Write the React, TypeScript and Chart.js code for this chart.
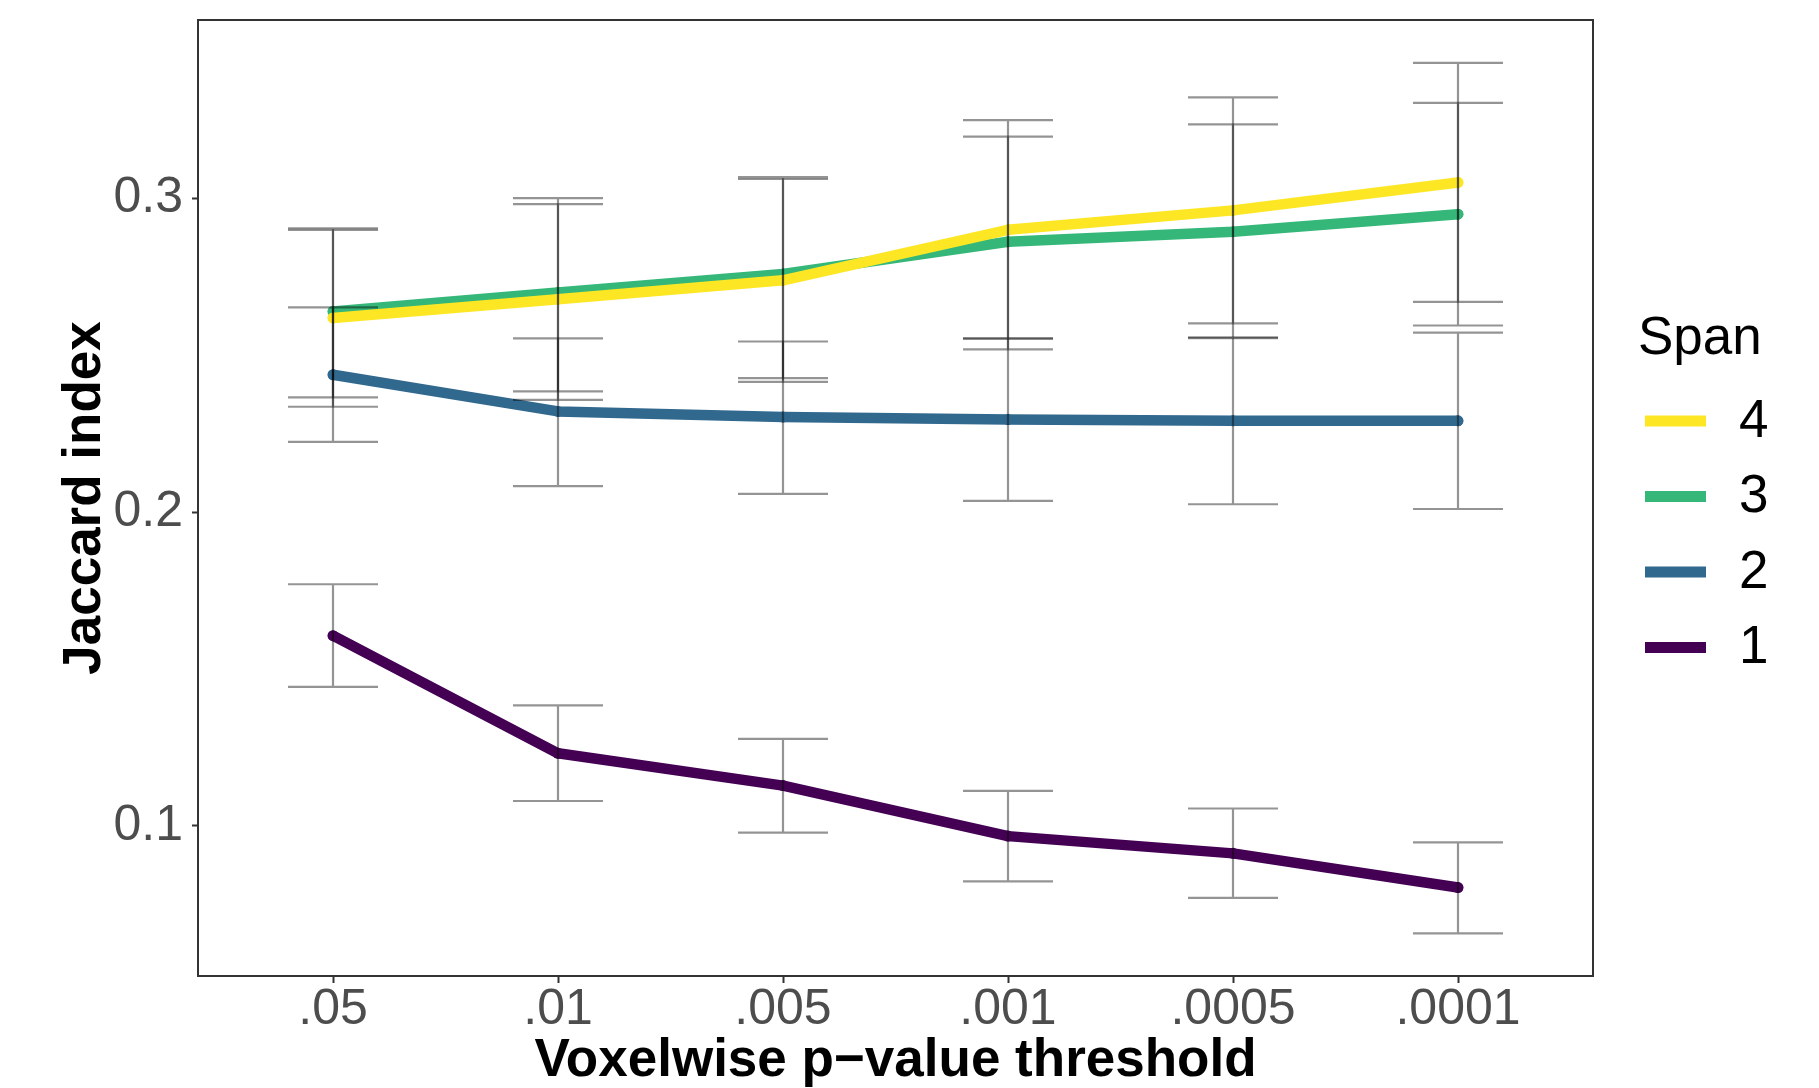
import { useEffect, useRef } from 'react';
import { Chart, registerables } from 'chart.js';

Chart.register(...registerables);

// ---------- data ----------
const thresholds = ['.05', '.01', '.005', '.001', '.0005', '.0001'];
const spanLabels = ['4', '3', '2', '1'];
const spanColors = ['#FDE725', '#35B779', '#31688E', '#440154'];

const span4Mean = [0.2619, 0.2679, 0.2739, 0.2900, 0.2962, 0.3051];
const span4Lower = [0.2336, 0.2358, 0.2415, 0.2553, 0.2602, 0.2670];
const span4Upper = [0.2900, 0.2982, 0.3062, 0.3250, 0.3322, 0.3432];

const span3Mean = [0.2640, 0.2700, 0.2759, 0.2862, 0.2894, 0.2950];
const span3Lower = [0.2366, 0.2385, 0.2427, 0.2519, 0.2555, 0.2595];
const span3Upper = [0.2905, 0.3001, 0.3068, 0.3197, 0.3236, 0.3305];

const span2Mean = [0.2438, 0.2321, 0.2303, 0.2295, 0.2291, 0.2291];
const span2Lower = [0.2224, 0.2083, 0.2058, 0.2036, 0.2025, 0.2010];
const span2Upper = [0.2653, 0.2554, 0.2544, 0.2554, 0.2557, 0.2572];

const span1Mean = [0.1606, 0.1231, 0.1128, 0.0967, 0.0912, 0.0803];
const span1Lower = [0.1443, 0.1079, 0.0978, 0.0823, 0.0770, 0.0657];
const span1Upper = [0.1770, 0.1384, 0.1277, 0.1111, 0.1055, 0.0947];

const yTickValues = [0.1, 0.2, 0.3];

const means = [span4Mean, span3Mean, span2Mean, span1Mean];
const lowers = [span4Lower, span3Lower, span2Lower, span1Lower];
const uppers = [span4Upper, span3Upper, span2Upper, span1Upper];

// axis limits (ggplot-like expansion)
const X_MIN = 0.4;
const X_MAX = 6.6;
const Y_MIN = 0.0521;
const Y_MAX = 0.3569;
const CAP_HALF = 0.2;

const FONT = "'Liberation Sans', Arial, Helvetica, sans-serif";

const errorBarPlugin = {
  id: 'errorBars',
  afterDatasetsDraw(chart: any) {
    const { ctx, scales } = chart;
    const xs = scales.x;
    const ys = scales.y;
    ctx.save();
    ctx.strokeStyle = 'rgba(0,0,0,0.42)';
    ctx.lineWidth = 2.2;
    ctx.lineCap = 'butt';
    ctx.lineJoin = 'miter';
    chart.data.datasets.forEach((ds: any, i: number) => {
      ds.data.forEach((pt: any, j: number) => {
        const px = xs.getPixelForValue(pt.x);
        const x0 = xs.getPixelForValue(pt.x - CAP_HALF);
        const x1 = xs.getPixelForValue(pt.x + CAP_HALF);
        const yl = ys.getPixelForValue(lowers[i][j]);
        const yh = ys.getPixelForValue(uppers[i][j]);
        ctx.beginPath();
        ctx.moveTo(x0, yh);
        ctx.lineTo(x1, yh);
        ctx.moveTo(px, yh);
        ctx.lineTo(px, yl);
        ctx.moveTo(x0, yl);
        ctx.lineTo(x1, yl);
        ctx.stroke();
      });
    });
    ctx.restore();
  },
};

const panelBorderPlugin = {
  id: 'panelBorder',
  afterDraw(chart: any) {
    const { ctx, chartArea } = chart;
    ctx.save();
    ctx.strokeStyle = '#333333';
    ctx.lineWidth = 2;
    ctx.strokeRect(chartArea.left, chartArea.top, chartArea.right - chartArea.left, chartArea.bottom - chartArea.top);
    ctx.restore();
  },
};

const legendPlugin = {
  id: 'ggLegend',
  afterDraw(chart: any) {
    const { ctx, chartArea } = chart;
    const baseX = chartArea.right + 45;
    ctx.save();
    ctx.fillStyle = '#000000';
    ctx.font = `53px ${FONT}`;
    ctx.textAlign = 'left';
    ctx.textBaseline = 'alphabetic';
    ctx.fillText('Span', baseX, 354);
    chart.data.datasets.forEach((ds: any, i: number) => {
      const cy = 421 + i * 75.5;
      ctx.beginPath();
      ctx.strokeStyle = ds.borderColor;
      ctx.lineWidth = 11;
      ctx.lineCap = 'butt';
      ctx.moveTo(baseX + 7, cy);
      ctx.lineTo(baseX + 68, cy);
      ctx.stroke();
      ctx.fillStyle = '#000000';
      ctx.textBaseline = 'middle';
      ctx.fillText(ds.label, baseX + 101, cy + 1);
    });
    ctx.restore();
  },
};

export default function App() {
  const canvasRef = useRef<HTMLCanvasElement | null>(null);

  useEffect(() => {
    const canvas = canvasRef.current;
    if (!canvas) return;
    Chart.defaults.font.family = FONT;

    const datasets = spanLabels.map((label, i) => ({
      label,
      data: thresholds.map((_, j) => ({ x: j + 1, y: means[i][j] })),
      borderColor: spanColors[i],
      backgroundColor: spanColors[i],
      borderWidth: 10.5,
      borderCapStyle: 'round' as const,
      borderJoinStyle: 'round' as const,
      pointRadius: 5.5,
      pointBorderWidth: 0,
      pointBackgroundColor: spanColors[i],
      pointHoverRadius: 5.5,
      tension: 0,
      fill: false,
    }));

    const chart = new Chart(canvas, {
      type: 'line',
      data: { datasets },
      options: {
        responsive: false,
        maintainAspectRatio: false,
        devicePixelRatio: 1,
        animation: false,
        layout: { padding: { left: 0, top: 20, right: 226, bottom: 0 } },
        plugins: {
          legend: { display: false },
          tooltip: { enabled: false },
          title: { display: false },
        },
        scales: {
          x: {
            type: 'linear',
            min: X_MIN,
            max: X_MAX,
            afterBuildTicks: (s: any) => {
              s.ticks = thresholds.map((_, j) => ({ value: j + 1 }));
            },
            afterFit: (s: any) => {
              s.height = 112;
              s.paddingLeft = 0;
              s.paddingRight = 0;
            },
            grid: {
              drawOnChartArea: false,
              drawTicks: true,
              tickLength: 7,
              tickColor: '#333333',
              tickWidth: 2,
              color: '#333333',
            },
            border: { display: false },
            ticks: {
              autoSkip: false,
              maxRotation: 0,
              minRotation: 0,
              padding: 2,
              color: '#4D4D4D',
              font: { size: 50, family: FONT, lineHeight: 1 },
              callback: (v: any) => thresholds[Math.round(Number(v)) - 1] ?? '',
            },
            title: {
              display: true,
              text: 'Voxelwise p\u2212value threshold',
              color: '#000000',
              font: { size: 53, weight: 'bold', family: FONT, lineHeight: 1 },
              padding: { top: 0, bottom: 0 },
            },
          },
          y: {
            type: 'linear',
            min: Y_MIN,
            max: Y_MAX,
            afterBuildTicks: (s: any) => {
              s.ticks = yTickValues.map((v) => ({ value: v }));
            },
            afterFit: (s: any) => {
              s.width = 198;
              s.paddingTop = 0;
              s.paddingBottom = 0;
            },
            grid: {
              drawOnChartArea: false,
              drawTicks: true,
              tickLength: 6,
              tickColor: '#333333',
              tickWidth: 2,
              color: '#333333',
            },
            border: { display: false },
            ticks: {
              autoSkip: false,
              padding: 9,
              color: '#4D4D4D',
              font: { size: 50, family: FONT, lineHeight: 1 },
              callback: (v: any) => Number(v).toFixed(1),
            },
            title: {
              display: true,
              text: 'Jaccard index',
              color: '#000000',
              font: { size: 53, weight: 'bold', family: FONT, lineHeight: 1 },
              padding: { top: 59, bottom: 0 },
            },
          },
        },
      },
      plugins: [errorBarPlugin, panelBorderPlugin, legendPlugin],
    });

    return () => {
      chart.destroy();
    };
  }, []);

  return (
    <div style={{ position: 'absolute', left: 0, top: 0, width: 1819, height: 1088, background: '#ffffff' }}>
      <canvas ref={canvasRef} width={1819} height={1088} style={{ display: 'block', width: 1819, height: 1088 }} />
    </div>
  );
}
